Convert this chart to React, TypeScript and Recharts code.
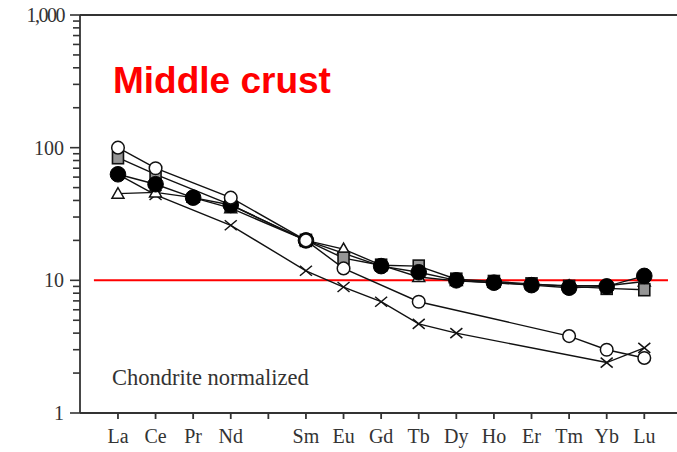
import React from 'react';
import { LineChart, Line, XAxis, YAxis, ReferenceLine } from 'recharts';

const elements = ['La', 'Ce', 'Pr', 'Nd', 'Pm', 'Sm', 'Eu', 'Gd', 'Tb', 'Dy', 'Ho', 'Er', 'Tm', 'Yb', 'Lu'];
const tickLabels = ['La', 'Ce', 'Pr', 'Nd', '', 'Sm', 'Eu', 'Gd', 'Tb', 'Dy', 'Ho', 'Er', 'Tm', 'Yb', 'Lu'];

const crossSeries = [63, 44, null, 26, null, 11.8, 8.9, 6.9, 4.7, 4.0, null, null, null, 2.4, 3.1];
const triangleSeries = [45, 46, 42, 35, null, 20, 17.2, 13, 10.6, 9.9, 9.6, 9.3, 9.1, 9.1, 9.8];
const squareSeries = [84, 63, null, 37, null, 20, 14.7, 13, 12.8, 10.2, 9.8, 9.4, 9.0, 8.7, 8.5];
const filledCircleSeries = [63, 53, 42, 37, null, 20, null, 12.8, 11.5, 10, 9.6, 9.2, 8.8, 9.0, 10.8];
const openCircleSeries = [100, 70, null, 42, null, 20, 12.3, null, 6.9, null, null, null, 3.8, 3.0, 2.6];

const majorTicks = [1, 10, 100, 1000];
const minorTicks = [2, 3, 4, 5, 6, 7, 8, 9, 20, 30, 40, 50, 60, 70, 80, 90, 200, 300, 400, 500, 600, 700, 800, 900];
const allTicks = [...majorTicks, ...minorTicks].sort((a, b) => a - b);
const referenceValue = 10;

const data = elements.map((el, i) => ({
  i,
  el,
  cross: crossSeries[i],
  triangle: triangleSeries[i],
  square: squareSeries[i],
  filled: filledCircleSeries[i],
  open: openCircleSeries[i],
}));

const makeDot = (kind: string) => (props: any) => {
  const { cx, cy, index, value } = props;
  const key = `${kind}-${index}`;
  if (cx == null || cy == null || value == null) return <g key={key} />;
  switch (kind) {
    case 'open':
      return <circle key={key} cx={cx} cy={cy} r={6.3} fill="#fff" stroke="#111" strokeWidth={1.5} />;
    case 'filled':
      return <circle key={key} cx={cx} cy={cy} r={7.8} fill="#000" stroke="#000" strokeWidth={1} />;
    case 'square':
      return <rect key={key} x={cx - 5.5} y={cy - 6} width={11} height={12} fill="#959595" stroke="#111" strokeWidth={1.6} />;
    case 'triangle':
      return (
        <polygon
          key={key}
          points={`${cx},${cy - 6} ${cx - 6},${cy + 4.5} ${cx + 6},${cy + 4.5}`}
          fill="#fff"
          stroke="#111"
          strokeWidth={1.5}
        />
      );
    case 'cross':
    default:
      return (
        <g key={key} stroke="#111" strokeWidth={1.5}>
          <line x1={cx - 6} y1={cy - 5} x2={cx + 6} y2={cy + 5} />
          <line x1={cx - 6} y1={cy + 5} x2={cx + 6} y2={cy - 5} />
        </g>
      );
  }
};

const TICK_SIZE = 10;
const TICK_MARGIN = 6;

const YTick = (props: any) => {
  const { x, y, payload } = props;
  const v = payload.value as number;
  const isMajor = majorTicks.includes(v);
  const ax = x + TICK_SIZE + TICK_MARGIN;
  const len = isMajor ? 10 : 7;
  return (
    <g>
      <line x1={ax - len} y1={y} x2={ax} y2={y} stroke="#333" strokeWidth={1.6} />
      {isMajor && (
        <text
          x={x}
          y={y}
          dy="0.35em"
          textAnchor="end"
          fill="#333"
          fontFamily="Liberation Serif"
          fontSize={20}
          letterSpacing={v >= 1000 ? -1.5 : 0}
        >
          {v.toLocaleString('en-US')}
        </text>
      )}
    </g>
  );
};

const seriesKeys = ['cross', 'triangle', 'square', 'filled', 'open'];

export default function App() {
  return (
    <div style={{ position: 'absolute', left: 0, top: 0, width: 677, height: 452, background: '#fff' }}>
      <LineChart width={677} height={452} data={data} margin={{ top: 15, right: 0, bottom: 0, left: 0 }}>
        <XAxis
          dataKey="i"
          type="number"
          domain={[-1.01, 14.87]}
          allowDataOverflow
          ticks={elements.map((_, i) => i)}
          interval={0}
          tickFormatter={(v: number) => tickLabels[v] ?? ''}
          height={39}
          tickSize={6}
          tickMargin={10}
          stroke="#333"
          strokeWidth={1.8}
          tick={{ fill: '#333', fontFamily: 'Liberation Serif', fontSize: 20 }}
        />
        <YAxis
          yAxisId="main"
          scale="log"
          domain={[1, 1000]}
          allowDataOverflow
          ticks={allTicks}
          interval={0}
          width={80}
          tickSize={TICK_SIZE}
          tickMargin={TICK_MARGIN}
          tickLine={false}
          stroke="#333"
          strokeWidth={1.8}
          tick={<YTick />}
        />
        <ReferenceLine yAxisId="main" y={1000} stroke="#333" strokeWidth={1.8} />
        <ReferenceLine
          yAxisId="main"
          segment={[
            { x: -0.64, y: referenceValue },
            { x: 14.63, y: referenceValue },
          ]}
          stroke="#ff0000"
          strokeWidth={2}
        />
        {seriesKeys.map((k) => (
          <Line
            key={k}
            yAxisId="main"
            dataKey={k}
            type="linear"
            stroke="#111"
            strokeWidth={1.4}
            connectNulls
            isAnimationActive={false}
            dot={makeDot(k)}
            activeDot={false}
          />
        ))}
        <text x={113} y={93} fill="#ff0000" fontFamily="Liberation Sans" fontWeight="bold" fontSize={37}>
          Middle crust
        </text>
        <text x={112} y={385} fill="#333" fontFamily="Liberation Serif" fontSize={22.5}>
          Chondrite normalized
        </text>
      </LineChart>
    </div>
  );
}
